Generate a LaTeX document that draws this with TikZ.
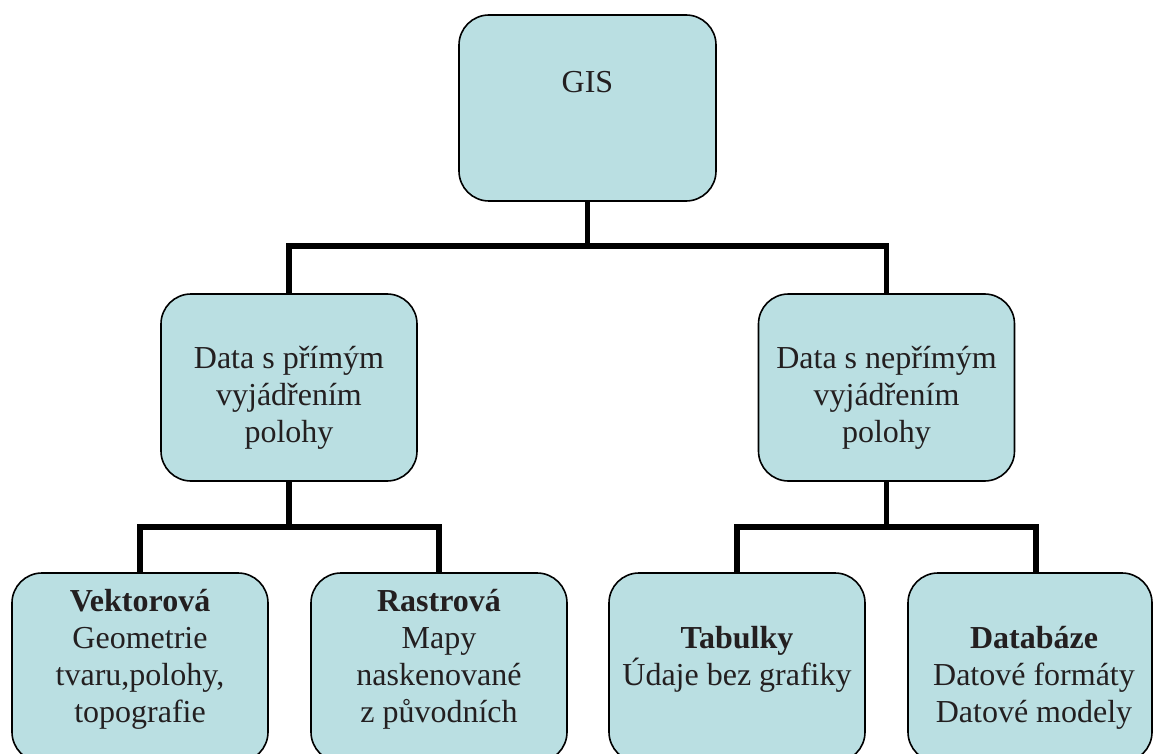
\documentclass[tikz,border=0pt]{standalone}
\usepackage{fontspec}
\setmainfont{Liberation Serif}
\definecolor{boxfill}{HTML}{BADFE2}
\definecolor{textgray}{HTML}{231F20}
\begin{document}
\begin{tikzpicture}[x=1pt,y=-1pt,
  box/.style={draw=black, line width=1.6pt, fill=boxfill, rounded corners=30pt, minimum width=256pt, minimum height=187pt, inner sep=0pt, outer sep=0pt},
  txt/.style={align=center, text=textgray, font=\fontsize{32}{37}\selectfont, inner sep=0pt},
  conn/.style={line width=5.5pt, draw=black}]
\path[use as bounding box] (0,0) rectangle (1154,754);
\clip (0,0) rectangle (1154,754);
% boxes
\node[box, minimum width=257pt, minimum height=186pt] (gis) at (587.5,108) {};
\node[box] (ml) at (289,387.5) {};
\node[box] (mr) at (886.5,387.5) {};
\node[box, minimum height=189pt] (b1) at (140,667.5) {};
\node[box, minimum height=189pt] (b2) at (439,667.5) {};
\node[box, minimum height=189pt] (b3) at (737,667.5) {};
\node[box, minimum width=244pt, minimum height=189pt] (b4) at (1030,667.5) {};
% texts
\node[txt] (tgis) at (587.5,82) {GIS};
\node[txt] (tml) at (289,398) {Data s přímým\\vyjádřením\\polohy};
\node[txt] (tmr) at (886.5,398) {Data s nepřímým\\vyjádřením\\polohy};
\node[txt] (tb1) at (140,659) {\textbf{Vektorová}\\Geometrie\\tvaru,polohy,\\topografie};
\node[txt] (tb2) at (439,659) {\textbf{Rastrová}\\Mapy\\naskenované\\z původních};
\node[txt] (tb3) at (737,659) {\textbf{Tabulky}\\Údaje bez grafiky};
\node[txt] (tb4) at (1034,678) {\textbf{Databáze}\\Datové formáty\\Datové modely};
% connectors
\coordinate (j1) at (587.5,246);
\coordinate (j2) at (289,527);
\coordinate (j3) at (886.5,527);
\draw[conn] (gis.south) -- (j1);
\draw[conn] (ml.north) |- (j1) -| (mr.north);
\draw[conn] (ml.south) -- (j2);
\draw[conn] (b1.north) |- (j2) -| (b2.north);
\draw[conn] (mr.south) -- (j3);
\draw[conn] (b3.north) |- (j3) -| ([xshift=6pt]b4.north);
\end{tikzpicture}
\end{document}
